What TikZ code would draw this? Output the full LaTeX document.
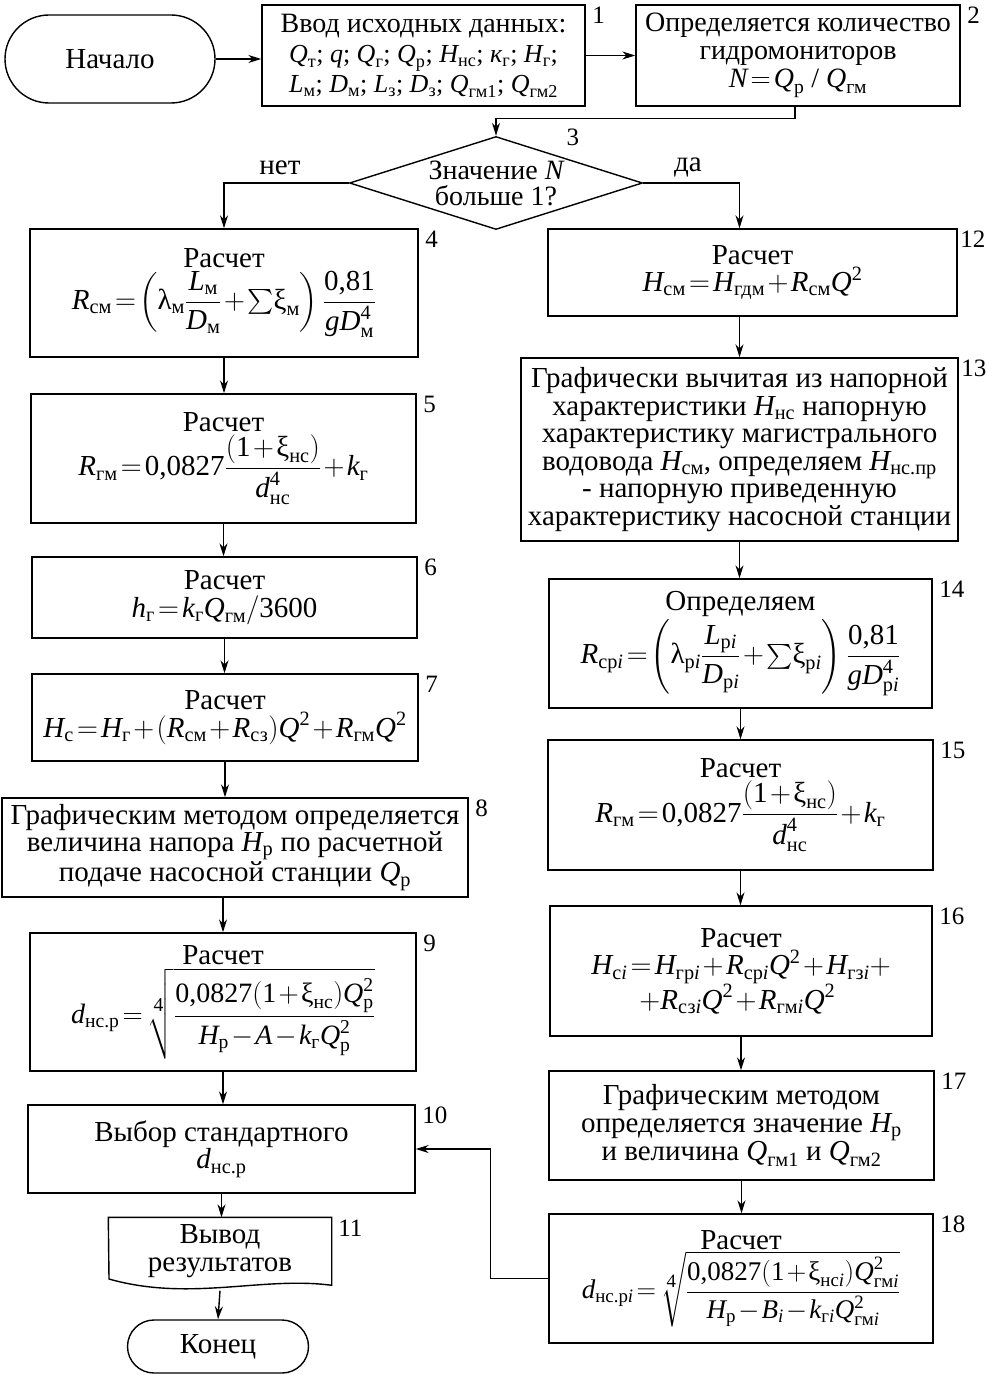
\RequirePackage{fix-cm}
\documentclass[tikz,border=0pt]{standalone}
\usepackage{amsmath}
\usepackage{fontspec}
\setmainfont{Liberation Serif}
\usetikzlibrary{shapes.geometric,shapes.misc,arrows.meta}

% italic variable and upright index
\newcommand\vv[1]{\text{\itshape #1}}
\newcommand\tx[1]{\text{#1}}
\thickmuskip=2mu plus 1mu
\medmuskip=1.5mu plus 1mu

\begin{document}
\begin{tikzpicture}[x=1pt,y=-1pt,line width=1.4pt,
  >={Stealth[length=13pt,width=8pt]},
  every node/.style={font=\fontsize{29}{27.5}\selectfont},
  blk/.style 2 args={draw,rectangle,minimum width=#1,minimum height=#2,inner sep=0pt,align=center},
  term/.style 2 args={draw,rounded rectangle,minimum width=#1,minimum height=#2,inner sep=0pt},
  num/.style={anchor=north west,inner sep=0pt,xshift=6pt,yshift=-2pt,font=\fontsize{25}{25}\selectfont}]
  \useasboundingbox (0,0) rectangle (986,1375);

  % top row
  \node[term={210}{88}] (beg) at (110,59) {Начало};
  \node[blk={323}{101},font=\fontsize{28}{30}\selectfont] (b1) at (423.5,55.5)
    {Ввод исходных данных:\\
     {\fontsize{26}{30}\selectfont$\vv{Q}_{\tx{т}}$; $\vv{q}$; $\vv{Q}_{\tx{г}}$; $\vv{Q}_{\tx{р}}$; $\vv{H}_{\tx{нс}}$; $\vv{к}_{\tx{г}}$; $\vv{H}_{\tx{г}}$;}\\
     {\fontsize{26}{30}\selectfont$\vv{L}_{\tx{м}}$; $\vv{D}_{\tx{м}}$; $\vv{L}_{\tx{з}}$; $\vv{D}_{\tx{з}}$; $\vv{Q}_{\tx{гм1}}$; $\vv{Q}_{\tx{гм2}}$}};
  \node[blk={324}{101},font=\fontsize{28}{28}\selectfont] (b2) at (798,55.5)
    {Определяется количество\\ гидромониторов\\ $\vv{N} = \vv{Q}_{\tx{р}}$ / $\vv{Q}_{\tx{гм}}$};
  \node[draw,diamond,aspect=3,inner sep=-8pt,minimum width=293,minimum height=93,align=center,
    font=\fontsize{28}{26}\selectfont] (b3) at (496,183) {Значение $\vv{N}$\\ больше 1?};
  \node (no) at (280,168) {нет};
  \node (yes) at (688,168) {да};

  % left column
  \node[blk={388}{128}] (b4) at (224,293) {Расчет\\[2pt]
    $\displaystyle \vv{R}_{\tx{см}}=\left(\tx{λ}_{\tx{м}}\frac{\vv{L}_{\tx{м}}}{\vv{D}_{\tx{м}}}+{\textstyle\sum}\tx{ξ}_{\tx{м}}\right)\frac{\tx{0,81}}{\vv{gD}_{\tx{м}}^{\tx{4}}}$};
  \node[blk={385}{129}] (b5) at (223.5,458.5) {Расчет\\[2pt]
    $\displaystyle \vv{R}_{\tx{гм}}=\tx{0,0827}\frac{(\tx{1}+\tx{ξ}_{\tx{нс}})}{\vv{d}_{\tx{нс}}^{\tx{4}}}+\vv{k}_{\tx{г}}$};
  \node[blk={385}{81}] (b6) at (224.5,597.5) {Расчет\\
    $\vv{h}_{\tx{г}}=\vv{k}_{\tx{г}}\vv{Q}_{\tx{гм}}/\tx{3600}$};
  \node[blk={386}{87}] (b7) at (225,717.5) {Расчет\\
    $\vv{H}_{\tx{с}}=\vv{H}_{\tx{г}}+(\vv{R}_{\tx{см}}+\vv{R}_{\tx{сз}})\vv{Q}^{\tx{2}}+\vv{R}_{\tx{гм}}\vv{Q}^{\tx{2}}$};
  \node[blk={466}{99}] (b8) at (235,847.5) {Графическим методом определяется\\
    величина напора $\vv{H}_{\tx{р}}$ по расчетной\\ подаче насосной станции $\vv{Q}_{\tx{р}}$};
  \node[blk={386}{138}] (b9) at (223,1002) {Расчет\\[3pt]
    {\fontsize{28}{28}\selectfont$\displaystyle \vv{d}_{\tx{нс.р}}=\sqrt[\scriptstyle\tx{4}]{\frac{\tx{0,0827}(\tx{1}+\tx{ξ}_{\tx{нс}})\vv{Q}_{\tx{р}}^{\tx{2}}}{\vv{H}_{\tx{р}}-\vv{A}-\vv{k}_{\tx{г}}\vv{Q}_{\tx{р}}^{\tx{2}}}}$}};
  \node[blk={387}{88}] (b10) at (221.5,1149) {Выбор стандартного\\ $\vv{d}_{\tx{нс.р}}$};
  \node[minimum width=222,minimum height=66,inner sep=0pt,align=center] (b11) at (220,1251)
    {Вывод\\ результатов};
  \draw (b11.north west) -- (b11.north east) -- ++(0,68)
    .. controls (262,1276) and (190,1302) .. (109,1279) -- cycle;
  \node[term={181}{53}] (end) at (218,1346.5) {Конец};

  % right column
  \node[blk={409}{87}] (b12) at (752.5,272.5) {Расчет\\
    $\vv{H}_{\tx{см}}=\vv{H}_{\tx{гдм}}+\vv{R}_{\tx{см}}\vv{Q}^{\tx{2}}$};
  \node[blk={437}{183}] (b13) at (739.5,449.5) {Графически вычитая из напорной\\
    характеристики $\vv{H}_{\tx{нс}}$ напорную\\ характеристику магистрального\\
    водовода $\vv{H}_{\tx{см}}$, определяем $\vv{H}_{\tx{нс.пр}}$\\
    - напорную приведенную\\ характеристику насосной станции};
  \node[blk={383}{129}] (b14) at (740.5,643.5) {Определяем\\[2pt]
    $\displaystyle \vv{R}_{\tx{ср\textit{i}}}=\left(\tx{λ}_{\tx{р\textit{i}}}\frac{\vv{L}_{\tx{р\textit{i}}}}{\vv{D}_{\tx{р\textit{i}}}}+{\textstyle\sum}\tx{ξ}_{\tx{р\textit{i}}}\right)\frac{\tx{0,81}}{\vv{gD}_{\tx{р\textit{i}}}^{\tx{4}}}$};
  \node[blk={385}{130}] (b15) at (740.5,805) {Расчет\\[2pt]
    $\displaystyle \vv{R}_{\tx{гм}}=\tx{0,0827}\frac{(\tx{1}+\tx{ξ}_{\tx{нс}})}{\vv{d}_{\tx{нс}}^{\tx{4}}}+\vv{k}_{\tx{г}}$};
  \node[blk={382}{130}] (b16) at (741,971) {Расчет\\
    $\vv{H}_{\tx{с\textit{i}}}=\vv{H}_{\tx{гр\textit{i}}}+\vv{R}_{\tx{ср\textit{i}}}\vv{Q}^{\tx{2}}+\vv{H}_{\tx{гз\textit{i}}}+$\\
    $+\vv{R}_{\tx{сз\textit{i}}}\vv{Q}^{\tx{2}}+\vv{R}_{\tx{гм\textit{i}}}\vv{Q}^{\tx{2}}$\ \ };
  \node[blk={385}{109}] (b17) at (741.5,1125.5) {Графическим методом\\
    определяется значение $\vv{H}_{\tx{р}}$\\ и величина $\vv{Q}_{\tx{гм1}}$ и $\vv{Q}_{\tx{гм2}}$};
  \node[blk={384}{129}] (b18) at (741,1278.5) {Расчет\\[1pt]
    {\fontsize{27}{27}\selectfont$\displaystyle \vv{d}_{\tx{нс.р\textit{i}}}=\sqrt[\scriptstyle\tx{4}]{\frac{\tx{0,0827}(\tx{1}+\tx{ξ}_{\tx{нс\textit{i}}})\vv{Q}_{\tx{гм\textit{i}}}^{\tx{2}}}{\vv{H}_{\tx{р}}-\vv{B}_{\textit{i}}-\vv{k}_{\tx{г\textit{i}}}\vv{Q}_{\tx{гм\textit{i}}}^{\tx{2}}}}$}};

  % block numbers
  \foreach \i in {1,2,4,5,6,7,8,9,10,11,14,15,16,17,18}
    \node[num] (n\i) at (b\i.north east) {\i};
  \node[num,xshift=-4pt] (n12) at (b12.north east) {12};
  \node[num,xshift=-4pt] (n13) at (b13.north east) {13};
  \node[num,xshift=-6pt,yshift=2pt] (n3) at (566,128) {3};

  % connectors
  \draw[->] (beg.east) -- (beg.east -| b1.west);
  \draw[->] (b1.east) -- (b2.west);
  \draw[->] ([xshift=-3pt]b2.south) -- ++(0,12) -| (b3.north);
  \draw[->] (b3.west) -| (b4.north);
  \draw[->] (b3.east) -| (b13.north |- b12.north);
  \draw[->] (b4.south) -- (b4.south |- b5.north);
  \draw[->] (b5.south) -- (b5.south |- b6.north);
  \draw[->] (b6.south) -- (b6.south |- b7.north);
  \draw[->] (b7.south) -- (b7.south |- b8.north);
  \draw[->] (b9.north |- b8.south) -- (b9.north);
  \draw[->] (b9.south) -- (b9.south |- b10.north);
  \draw[->] (b10.south) -- (b10.south |- b11.north);
  \draw[->] ([yshift=-6pt]b11.south) -- (end.north);
  \draw[->] (b13.north |- b12.south) -- (b13.north);
  \draw[->] (b13.south) -- (b13.south |- b14.north);
  \draw[->] (b14.south) -- (b14.south |- b15.north);
  \draw[->] (b15.south) -- (b15.south |- b16.north);
  \draw[->] (b16.south) -- (b16.south |- b17.north);
  \draw[->] (b17.south) -- (b17.south |- b18.north);
  \draw[->] (b18.west) -- ++(-58,0) |- (b10.east);
\end{tikzpicture}
\end{document}
